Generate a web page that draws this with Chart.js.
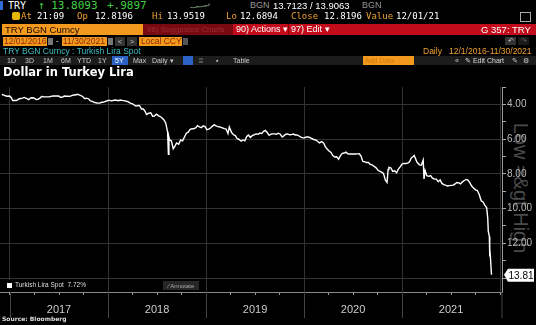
<!DOCTYPE html>
<html>
<head>
<meta charset="utf-8">
<script src="https://cdn.jsdelivr.net/npm/chart.js@4.4.0/dist/chart.umd.min.js"></script>
<style>
body{margin:0;background:#000;width:536px;height:325px;overflow:hidden;position:relative;font-family:"Liberation Sans",Arial,sans-serif;}
.a{position:absolute;white-space:nowrap;line-height:1;}
.m{font-family:"DejaVu Sans Mono",monospace;}
.o{color:#f0a030;}
.w{color:#fff;}
.g{color:#3fd13f;}
.box{position:absolute;background:#f39a1e;}
</style>
</head>
<body>
<!-- row 1 -->
<div class="a" style="left:0;top:1px;width:3px;height:9px;background:#2f6bd8"></div>
<div class="a m w" style="left:8px;top:1px;font-size:10px">TRY</div>
<div class="a m g" style="left:38px;top:0px;font-size:11px">↑ 13.8093</div>
<div class="a m g" style="left:107px;top:0px;font-size:11px">+.9897</div>
<canvas id="spark" width="78" height="10" class="a" style="left:163px;top:0"></canvas>
<div class="a" style="left:250px;top:1px;font-size:9px;color:#999">BGN</div>
<div class="a w" style="left:273px;top:1px;font-size:9.5px">13.7123 / 13.9063</div>
<div class="a" style="left:362px;top:1px;font-size:9px;color:#999">BGN</div>
<!-- row 2 -->
<div class="a" style="left:12px;top:12px;width:8px;height:8px;background:#e8b800;border-radius:2px"></div>
<div class="a m o" style="left:21px;top:12px;font-size:9px">At</div>
<div class="a m w" style="left:37px;top:12px;font-size:9px">21:09</div>
<div class="a m o" style="left:77px;top:12px;font-size:9px">Op</div>
<div class="a m w" style="left:95px;top:12px;font-size:9px">12.8196</div>
<div class="a m o" style="left:152px;top:12px;font-size:9px">Hi</div>
<div class="a m w" style="left:167px;top:12px;font-size:9px">13.9519</div>
<div class="a m o" style="left:226px;top:12px;font-size:9px">Lo</div>
<div class="a m w" style="left:240px;top:12px;font-size:9px">12.6894</div>
<div class="a m o" style="left:291px;top:12px;font-size:9px">Close</div>
<div class="a m w" style="left:324px;top:12px;font-size:9px">12.8196</div>
<div class="a m o" style="left:366px;top:12px;font-size:9px">Value</div>
<div class="a m w" style="left:396px;top:12px;font-size:9px">12/01/21</div>
<div class="a" style="left:520px;top:12px;width:9px;height:8px;border:1px solid #aaa"></div>
<!-- row 3 -->
<div class="box" style="left:2px;top:24px;width:141px;height:11px"></div>
<div class="a" style="left:5px;top:25px;font-size:9.5px;color:#1a0a00">TRY BGN Curncy</div>
<div class="box" style="left:143px;top:24px;width:90px;height:11px;background:#7a0a12;overflow:hidden"></div>
<div class="a" style="left:147px;top:26px;width:85px;overflow:hidden;font-size:8px;color:#9c2a32">96) Suggested Charts</div>
<div class="box" style="left:233px;top:24px;width:303px;height:11px;background:#c20c1c"></div>
<div class="a w" style="left:236px;top:25px;font-size:9px">90) Actions ▾</div>
<div class="a" style="left:288px;top:24px;width:1px;height:11px;background:#800"></div>
<div class="a w" style="left:291px;top:25px;font-size:9px">97) Edit ▾</div>
<div class="a w" style="left:481px;top:25px;font-size:9.5px">G 357: TRY</div>
<!-- row 4 -->
<div class="box" style="left:3px;top:37px;width:44px;height:9px"></div>
<div class="a" style="left:4px;top:37px;font-size:8.5px;color:#8a2a00">12/01/2016</div>
<div class="a" style="left:48px;top:38px;width:5px;height:7px;background:#777"></div>
<div class="a w" style="left:56px;top:37px;font-size:8px">-</div>
<div class="box" style="left:62px;top:37px;width:45px;height:9px"></div>
<div class="a" style="left:63px;top:37px;font-size:8.5px;color:#8a2a00">11/30/2021</div>
<div class="a" style="left:108px;top:38px;width:5px;height:7px;background:#777"></div>
<div class="a" style="left:115px;top:37px;width:10px;height:9px;background:#333;color:#ccc;font-size:7px;text-align:center;line-height:9px">&lt;</div>
<div class="a" style="left:127px;top:37px;width:10px;height:9px;background:#333;color:#ccc;font-size:7px;text-align:center;line-height:9px">&gt;</div>
<div class="box" style="left:139px;top:37px;width:43px;height:9px"></div>
<div class="a" style="left:141px;top:37px;font-size:8.5px;color:#8a2a00">Local CCY</div>
<div class="a" style="left:183px;top:38px;width:5px;height:7px;background:#555"></div>
<div class="a" style="left:505px;top:37px;width:11px;height:8px;background:#333;color:#ccc;font-size:7px;text-align:center">↶</div>
<div class="a" style="left:518px;top:37px;width:11px;height:8px;background:#1a1a1a;color:#666;font-size:7px;text-align:center">↷</div>
<!-- row 5 -->
<div class="a" style="left:3px;top:47px;font-size:8.5px;color:#3fbfc6">TRY BGN Curncy : Turkish Lira Spot</div>
<div class="a o" style="left:423px;top:47px;font-size:8.5px">Daily</div>
<div class="a o" style="left:449px;top:47px;font-size:8.5px">12/1/2016-11/30/2021</div>
<!-- row 6 -->
<div class="a" style="left:0;top:56px;width:536px;height:9px;background:#1c1c1c"></div>
<div class="a" style="left:112px;top:56px;width:16px;height:9px;background:#2b62c4"></div>
<div class="a" style="left:183px;top:56px;width:10px;height:9px;background:#2b62c4"></div>
<div class="a" style="left:7px;top:57px;font-size:7px;color:#ccc">1D</div>
<div class="a" style="left:25px;top:57px;font-size:7px;color:#ccc">3D</div>
<div class="a" style="left:43px;top:57px;font-size:7px;color:#ccc">1M</div>
<div class="a" style="left:61px;top:57px;font-size:7px;color:#ccc">6M</div>
<div class="a" style="left:77px;top:57px;font-size:7px;color:#ccc">YTD</div>
<div class="a" style="left:98px;top:57px;font-size:7px;color:#ccc">1Y</div>
<div class="a" style="left:115px;top:57px;font-size:7px;color:#fff">5Y</div>
<div class="a" style="left:133px;top:57px;font-size:7px;color:#ccc">Max</div>
<div class="a" style="left:152px;top:57px;font-size:7px;color:#ccc">Daily ▾</div>
<div class="a" style="left:199px;top:57px;font-size:7px;color:#ccc">⁞⁞</div>
<div class="a" style="left:216px;top:57px;font-size:7px;color:#ccc">▪</div>
<div class="a" style="left:233px;top:57px;font-size:7px;color:#ccc">Table</div>
<div class="box" style="left:363px;top:56px;width:51px;height:9px"></div>
<div class="a" style="left:365px;top:57px;font-size:7px;color:#d07a10">Add Data</div>
<div class="a" style="left:455px;top:57px;font-size:7px;color:#ccc">«</div>
<div class="a" style="left:465px;top:57px;font-size:7px;color:#ddd">✎ Edit Chart</div>
<div class="a" style="left:512px;top:57px;font-size:7px;color:#ccc">✎</div>
<div class="a" style="left:523px;top:57px;font-size:7px;color:#ccc">⚙</div>
<!-- title -->
<div class="a" style="left:3px;top:67px;font-family:'DejaVu Sans',sans-serif;font-weight:bold;font-size:11.5px;color:#fff">Dollar in Turkey Lira</div>

<div class="a" style="left:521px;top:188px;transform:translate(-50%,-50%) rotate(90deg);font-size:20px;color:#4a4a4a">Low =&amp;gt High</div>

<canvas id="main" width="536" height="245" class="a" style="left:0;top:80px"></canvas>

<div class="a" style="left:4px;top:280px;width:78px;height:11px;background:#000"></div>
<div class="a" style="left:7px;top:283px;width:5px;height:5px;background:#fff"></div>
<div class="a" style="left:15px;top:282px;font-size:6.5px;color:#ddd">Turkish Lira Spot&nbsp;&nbsp;7.72%</div>
<div class="a" style="left:163px;top:281px;width:36px;height:9px;background:#262626"></div>
<div class="a" style="left:168px;top:283px;font-size:6px;color:#aaa">⁄ Annotate</div>
<div class="a" style="left:2px;top:316px;font-family:'DejaVu Sans',sans-serif;font-weight:bold;font-size:6px;color:#ddd">Source: Bloomberg</div>

<script>
// USD/TRY spot
const dates = [
  '2016-12-01','2016-12-09','2016-12-16','2016-12-23','2016-12-30','2017-01-06','2017-01-11','2017-01-20','2017-01-27',
  '2017-02-03','2017-02-10','2017-02-17','2017-02-24','2017-03-03','2017-03-10','2017-03-17','2017-03-24','2017-03-31',
  '2017-04-07','2017-04-14','2017-04-21','2017-04-28','2017-05-05','2017-05-12','2017-05-19','2017-05-26','2017-06-02',
  '2017-06-09','2017-06-16','2017-06-23','2017-06-30','2017-07-07','2017-07-14','2017-07-21','2017-07-28','2017-08-04',
  '2017-08-11','2017-08-18','2017-08-25','2017-09-01','2017-09-08','2017-09-15','2017-09-22','2017-09-29','2017-10-06',
  '2017-10-13','2017-10-20','2017-10-27','2017-11-03','2017-11-10','2017-11-17','2017-11-24','2017-12-01','2017-12-08',
  '2017-12-15','2017-12-22','2017-12-29','2018-01-05','2018-01-12','2018-01-19','2018-01-26','2018-02-02','2018-02-09',
  '2018-02-16','2018-02-23','2018-03-02','2018-03-09','2018-03-16','2018-03-23','2018-03-30','2018-04-06','2018-04-13',
  '2018-04-20','2018-04-27','2018-05-04','2018-05-11','2018-05-18','2018-05-23','2018-05-31','2018-06-08','2018-06-15',
  '2018-06-22','2018-06-29','2018-07-06','2018-07-13','2018-07-20','2018-07-27','2018-08-03','2018-08-10','2018-08-13',
  '2018-08-15','2018-08-17','2018-08-24','2018-08-31','2018-09-07','2018-09-13','2018-09-21','2018-09-28','2018-10-05',
  '2018-10-12','2018-10-19','2018-10-26','2018-11-02','2018-11-09','2018-11-16','2018-11-23','2018-11-30','2018-12-07',
  '2018-12-14','2018-12-21','2018-12-28','2019-01-04','2019-01-11','2019-01-18','2019-01-25','2019-02-01','2019-02-08',
  '2019-02-15','2019-02-22','2019-03-01','2019-03-08','2019-03-15','2019-03-22','2019-03-27','2019-04-05','2019-04-12',
  '2019-04-19','2019-04-26','2019-05-03','2019-05-10','2019-05-17','2019-05-24','2019-05-31','2019-06-07','2019-06-14',
  '2019-06-21','2019-06-28','2019-07-05','2019-07-12','2019-07-19','2019-07-26','2019-08-02','2019-08-09','2019-08-16',
  '2019-08-23','2019-08-30','2019-09-06','2019-09-13','2019-09-20','2019-09-27','2019-10-04','2019-10-11','2019-10-18',
  '2019-10-25','2019-11-01','2019-11-08','2019-11-15','2019-11-22','2019-11-29','2019-12-06','2019-12-13','2019-12-20',
  '2019-12-27','2020-01-03','2020-01-10','2020-01-17','2020-01-24','2020-01-31','2020-02-07','2020-02-14','2020-02-21',
  '2020-02-28','2020-03-06','2020-03-13','2020-03-20','2020-03-27','2020-04-03','2020-04-10','2020-04-17','2020-04-24',
  '2020-05-01','2020-05-08','2020-05-15','2020-05-22','2020-05-29','2020-06-05','2020-06-12','2020-06-19','2020-06-26',
  '2020-07-03','2020-07-10','2020-07-17','2020-07-24','2020-07-31','2020-08-07','2020-08-14','2020-08-21','2020-08-28',
  '2020-09-04','2020-09-11','2020-09-18','2020-09-25','2020-10-02','2020-10-09','2020-10-16','2020-10-23','2020-10-30',
  '2020-11-06','2020-11-10','2020-11-13','2020-11-20','2020-11-27','2020-12-04','2020-12-11','2020-12-18','2020-12-25',
  '2021-01-01','2021-01-08','2021-01-15','2021-01-22','2021-01-29','2021-02-05','2021-02-12','2021-02-16','2021-02-26',
  '2021-03-05','2021-03-12','2021-03-19','2021-03-22','2021-03-26','2021-04-02','2021-04-09','2021-04-16','2021-04-23',
  '2021-04-30','2021-05-07','2021-05-14','2021-05-21','2021-05-28','2021-06-04','2021-06-11','2021-06-18','2021-06-25',
  '2021-07-02','2021-07-09','2021-07-16','2021-07-23','2021-07-30','2021-08-06','2021-08-13','2021-08-20','2021-08-27',
  '2021-09-03','2021-09-10','2021-09-17','2021-09-24','2021-10-01','2021-10-08','2021-10-15','2021-10-22','2021-10-29',
  '2021-11-05','2021-11-12','2021-11-16','2021-11-18','2021-11-22','2021-11-23','2021-11-24','2021-11-26','2021-11-30'
];
const spot = [
  3.43,3.47,3.52,3.53,3.52,3.62,3.78,3.78,3.77,
  3.69,3.66,3.64,3.60,3.67,3.73,3.63,3.62,3.64,
  3.72,3.71,3.64,3.54,3.56,3.57,3.57,3.56,3.54,
  3.52,3.52,3.51,3.52,3.59,3.58,3.52,3.53,3.53,
  3.54,3.50,3.46,3.46,3.42,3.45,3.49,3.56,3.67,
  3.64,3.69,3.80,3.83,3.88,3.91,3.93,3.93,3.88,
  3.87,3.83,3.79,3.76,3.80,3.78,3.75,3.76,3.79,
  3.75,3.77,3.80,3.82,3.86,3.93,3.96,4.02,4.10,
  4.08,4.06,4.27,4.27,4.42,4.58,4.50,4.48,4.68,
  4.67,4.56,4.65,4.70,4.78,4.90,5.07,5.60,6.88,
  5.90,6.05,6.10,6.55,6.40,6.22,6.30,6.05,6.10,
  5.88,5.66,5.60,5.45,5.40,5.40,5.35,5.22,5.30,
  5.34,5.23,5.28,5.46,5.42,5.36,5.25,5.18,5.24,
  5.28,5.30,5.35,5.40,5.42,5.68,5.30,5.62,5.75,
  5.80,5.98,6.02,6.12,6.05,6.10,5.85,5.76,5.90,
  5.80,5.75,5.70,5.72,5.65,5.68,5.55,5.50,5.62,
  5.78,5.72,5.70,5.70,5.72,5.66,5.72,5.88,5.80,
  5.72,5.70,5.75,5.74,5.71,5.76,5.76,5.82,5.89,
  5.93,5.92,5.87,5.88,5.92,5.98,6.02,6.05,6.12,
  6.22,6.14,6.22,6.45,6.58,6.68,6.77,6.95,7.03,
  7.02,7.16,6.95,6.82,6.80,6.75,6.85,6.86,6.86,
  6.85,6.86,6.85,6.84,6.98,7.28,7.30,7.35,7.35,
  7.45,7.48,7.56,7.64,7.78,7.85,7.90,7.97,8.35,
  8.50,7.75,7.63,7.65,7.86,7.82,7.94,7.72,7.58,
  7.44,7.40,7.40,7.38,7.30,7.08,7.00,6.94,7.32,
  7.48,7.50,7.20,8.29,7.80,8.10,8.14,8.10,8.25,
  8.30,8.30,8.45,8.35,8.55,8.62,8.65,8.70,8.68,
  8.66,8.65,8.58,8.50,8.52,8.58,8.46,8.38,8.32,
  8.36,8.50,8.70,8.82,8.92,8.96,9.20,9.55,9.62,
  9.80,9.95,10.55,11.30,11.60,12.75,12.30,12.80,13.81
];
const yearTicks = [2017, 2018, 2019, 2020, 2021];
const priceTicks = [4, 6, 8, 10, 12];

function toYear(d) {
  const p = d.split('-').map(Number);
  return p[0] + (p[1] - 1) / 12 + (p[2] - 1) / 365;
}
const points = dates.map((d, i) => ({ x: toYear(d), y: spot[i] }));

// small header sparkline
new Chart(document.getElementById('spark'), {
  type: 'line',
  data: { datasets: [{ data: points, borderColor: '#7a9a7a', borderWidth: 1, pointRadius: 0 }] },
  options: {
    responsive: false, animation: false,
    layout: { padding: 1 },
    scales: { x: { type: 'linear', display: false }, y: { display: false } },
    plugins: { legend: { display: false }, tooltip: { enabled: false } }
  }
});

const decor = {
  id: 'decor',
  afterDraw(chart) {
    const ctx = chart.ctx, a = chart.chartArea;
    const xs = chart.scales.x, ys = chart.scales.y;
    ctx.save();
    ctx.strokeStyle = '#444';
    ctx.lineWidth = 1;
    yearTicks.concat([2022]).forEach(y => {
      const px = y === 2022 ? a.right : Math.round(xs.getPixelForValue(y)) + 0.5;
      ctx.beginPath();
      ctx.moveTo(px, a.bottom);
      ctx.lineTo(px, a.bottom + 26);
      ctx.stroke();
    });
    // last value tag
    const last = spot[spot.length - 1];
    const py = ys.getPixelForValue(last);
    const x0 = a.right + 2;
    ctx.fillStyle = '#fff';
    ctx.beginPath();
    ctx.moveTo(x0, py);
    ctx.lineTo(x0 + 4, py - 6);
    ctx.lineTo(x0 + 30, py - 6);
    ctx.lineTo(x0 + 30, py + 7);
    ctx.lineTo(x0 + 4, py + 7);
    ctx.closePath();
    ctx.fill();
    ctx.fillStyle = '#000';
    ctx.font = '10px "Liberation Sans", Arial, sans-serif';
    ctx.textAlign = 'center';
    ctx.textBaseline = 'middle';
    ctx.fillText(last.toFixed(2), x0 + 17, py + 1);
    ctx.restore();
  }
};

new Chart(document.getElementById('main'), {
  type: 'line',
  data: { datasets: [{ label: 'Turkish Lira Spot', data: points, borderColor: '#fff', borderWidth: 1.4, pointRadius: 0, tension: 0 }] },
  options: {
    responsive: false,
    animation: false,
    layout: { padding: { top: 3, left: 0, right: 0, bottom: 0 } },
    scales: {
      x: {
        type: 'linear', position: 'bottom',
        min: 2016.898, max: 2022.02,
        afterBuildTicks: s => {
          const t = [];
          for (let v = 2017; v <= 2022.001; v += 0.25) t.push({ value: v });
          s.ticks = t;
        },
        afterFit: s => { s.height = 33; },
        grid: {
          color: c => (c.tick && Number.isInteger(c.tick.value) ? '#333' : 'rgba(0,0,0,0)'),
          tickColor: '#999', tickLength: 3
        },
        border: { color: '#888' },
        ticks: {
          autoSkip: false, maxRotation: 0, color: '#ccc', padding: 8,
          font: { size: 11, family: 'Liberation Sans' },
          callback: v => {
            const yr = Math.floor(v);
            return Math.abs(v - yr - 0.5) < 0.01 && yearTicks.includes(yr) ? String(yr) : '';
          }
        }
      },
      y: {
        position: 'right', reverse: true,
        min: 3.0, max: 14.8,
        afterBuildTicks: s => {
          const t = [];
          for (let v = 3; v <= 14; v++) t.push({ value: v });
          s.ticks = t;
        },
        afterFit: s => { s.width = 34; },
        grid: {
          color: c => (c.tick && c.tick.value % 2 === 0 ? '#333' : 'rgba(0,0,0,0)'),
          tickColor: '#aaa', tickLength: 4
        },
        border: { color: '#999' },
        ticks: {
          color: '#bbb', padding: 1,
          font: { size: 10, family: 'Liberation Sans' },
          callback: v => (priceTicks.includes(v) ? v.toFixed(2) : '')
        }
      }
    },
    plugins: { legend: { display: false }, tooltip: { enabled: false } }
  },
  plugins: [decor]
});
</script>
</body>
</html>
